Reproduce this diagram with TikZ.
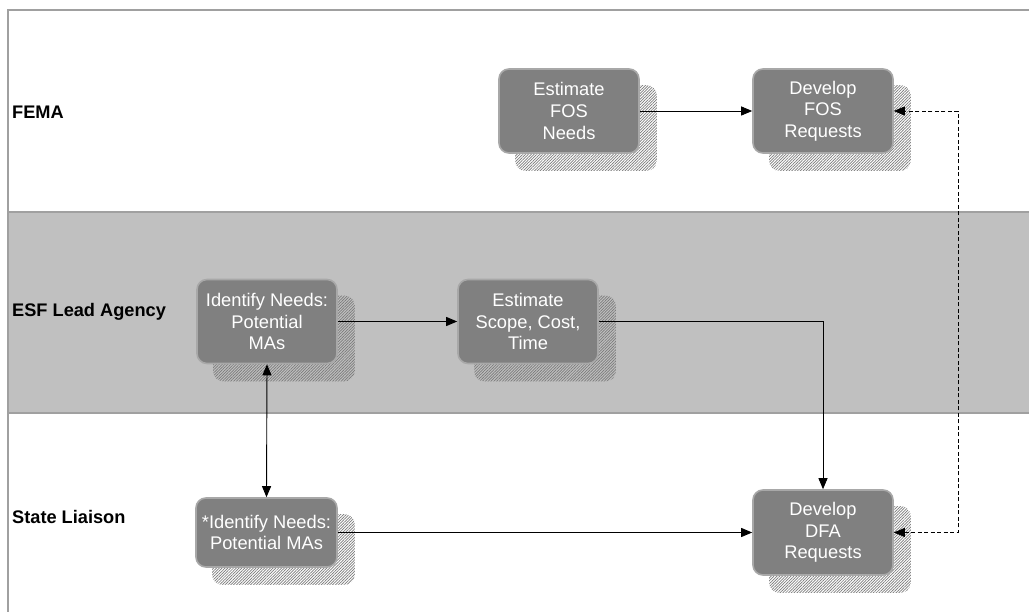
\documentclass[tikz,border=0pt]{standalone}
\usepackage{fontspec}
\setmainfont{Liberation Sans}
\usetikzlibrary{arrows.meta,patterns.meta}
\definecolor{lanegray}{HTML}{C0C0C0}
\definecolor{lineg}{HTML}{A0A0A0}
\definecolor{boxfill}{HTML}{808080}
\definecolor{boxedge}{HTML}{A8A8A8}
\definecolor{shadowbg}{HTML}{D0D0D0}
\definecolor{shadowln}{HTML}{7A7A7A}
\tikzset{
  procbox/.style={rectangle, rounded corners=10pt, draw=boxedge, line width=1.6pt,
    fill=boxfill, text=white, align=center, minimum width=140pt, minimum height=84pt,
    inner sep=2pt, font=\fontsize{18.3}{21.6}\selectfont},
  shadowbox/.style={rounded corners=10pt, fill=shadowbg,
    pattern={Lines[angle=45,distance=2pt,line width=0.7pt]}, pattern color=shadowln},
  lanelabel/.style={anchor=west, font=\bfseries\fontsize{18.2}{21}\selectfont, inner sep=0pt},
  flow/.style={line width=0.9pt, -{Triangle[length=11pt,width=9pt]}},
  bothflow/.style={line width=0.9pt, {Triangle[length=11pt,width=9pt]}-{Triangle[length=11pt,width=9pt]}},
  laneline/.style={draw=lineg, line width=1.2pt}
}
\newcommand{\shadowof}[1]{%
  \path[shadowbox] ([shift={(17,17)}]#1.south west) rectangle ([shift={(17,17)}]#1.north east);}
\begin{document}
\begin{tikzpicture}[x=1pt,y=-1pt]
\useasboundingbox (0,0) rectangle (1029,612);
\fill[white] (0,0) rectangle (1029,612);
% lanes
\fill[lanegray] (8,212) rectangle (1029,413);
\draw[laneline] (1029,10) -- (8,10) -- (8,612);
\draw[laneline] (8,212) -- (1029,212);
\draw[laneline] (8,413) -- (1029,413);
\node[lanelabel] (lfema) at (12,112) {FEMA};
\node[lanelabel] (lesf) at (12,312) {ESF Lead Agency};
\node[lanelabel] (lstate) at (12,517) {State Liaison};
% box positions (shadows first)
\coordinate (pefn) at (569,111);
\coordinate (pdfr) at (823,111);
\coordinate (pidn) at (267,321.5);
\coordinate (pesc) at (528,321.5);
\coordinate (psidn) at (266.5,532.5);
\coordinate (pdda) at (823,532.5);
\path (pefn) node[procbox, opacity=0] (sefn) {};
\path (pdfr) node[procbox, opacity=0] (sdfr) {};
\path (pidn) node[procbox, opacity=0] (sidnA) {};
\path (pesc) node[procbox, opacity=0] (sesc) {};
\path (psidn) node[procbox, minimum width=141pt, minimum height=69pt, opacity=0] (ssidn) {};
\path (pdda) node[procbox, minimum height=85pt, opacity=0] (sdda) {};
\shadowof{sefn}
\shadowof{sdfr}
\shadowof{sidnA}
\shadowof{sesc}
\shadowof{ssidn}
\shadowof{sdda}
% boxes
\node[procbox] (efn) at (pefn) {Estimate\\FOS\\Needs};
\node[procbox] (dfr) at (pdfr) {Develop\\FOS\\Requests};
\node[procbox] (idn) at (pidn) {Identify Needs:\\Potential\\MAs};
\node[procbox] (esc) at (pesc) {Estimate\\Scope, Cost,\\Time};
\node[procbox, minimum width=141pt, minimum height=69pt] (sidn) at (psidn) {*Identify Needs:\\Potential MAs};
\node[procbox, minimum height=85pt] (dda) at (pdda) {Develop\\DFA\\Requests};
% connectors
\draw[flow] (efn.east) -- (dfr.west);
\draw[flow] (idn.east) -- (esc.west);
\draw[flow] (esc.east) -| (dda.north);
\draw[flow] (sidn.east) -- (dda.west);
\draw[bothflow] (idn.south) -- (sidn.north);
\coordinate (dashx) at (958,300);
\draw[bothflow, dashed, dash pattern=on 4pt off 2.5pt] (dda.east) -- (dda.east -| dashx) -- (dfr.east -| dashx) -- (dfr.east);
\end{tikzpicture}
\end{document}
